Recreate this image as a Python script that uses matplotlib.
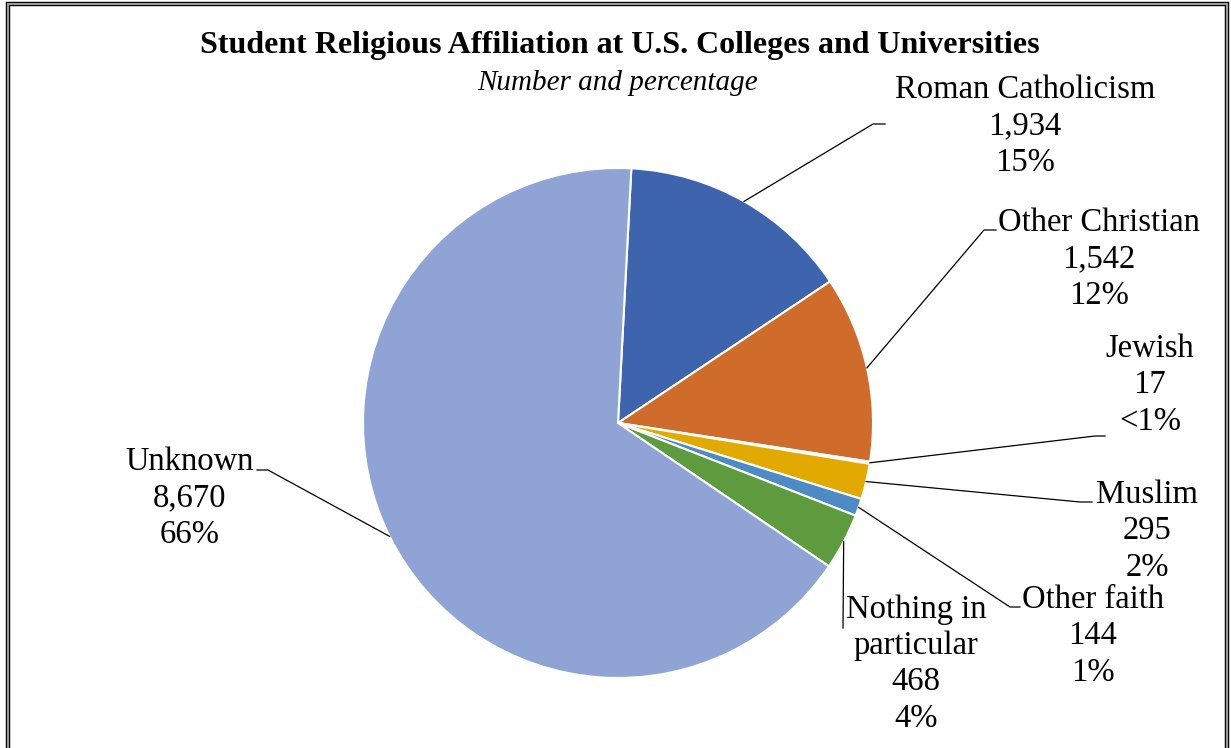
import numpy as np
import matplotlib.pyplot as plt
from matplotlib.patches import Rectangle

plt.rcParams['font.family'] = ['Liberation Serif', 'DejaVu Serif']

# data
categories = ['Roman Catholicism', 'Other Christian', 'Jewish', 'Muslim',
              'Other faith', 'Nothing in\nparticular', 'Unknown']
counts = [1934, 1542, 17, 295, 144, 468, 8670]
colors = ['#3D64AD', '#D06C2B', '#A5A5A5', '#E2AA00', '#4E8BC5', '#5E9A3E', '#8FA3D4']

W, H = 1231, 748
cx, cy, R = 618, 423, 255   # pie centre and radius in pixels

fig = plt.figure(figsize=(W / 100, H / 100), dpi=100)
ax = fig.add_axes([0, 0, 1, 1])

wedges, _ = ax.pie(counts, startangle=87, counterclock=False, colors=colors,
                   radius=1, wedgeprops=dict(edgecolor='white', linewidth=1.5))
ax.set_xlim(-cx / R, (W - cx) / R)
ax.set_ylim(-(H - cy) / R, cy / R)
ax.set_aspect('equal')
ax.axis('off')


def px(x, y):
    return (x - cx) / R, (cy - y) / R


# label centre, elbow, end of leader (pixels)
layout = [
    ((1025, 126), (873, 124), (885, 124)),
    ((1099, 259), (984, 230), (996, 230)),
    ((1150, 385), (1095, 436), (1105, 436)),
    ((1147, 531), (1080, 502), (1092, 502)),
    ((1093, 636), (1010, 607), (1020, 607)),
    ((916, 664), (843, 628), (843, 628)),
    ((190, 498), (268, 470), (257, 470)),
]

total = sum(counts)
for w, cat, v, (txt, elbow, end) in zip(wedges, categories, counts, layout):
    pct = v / total * 100
    pct_s = '<1%' if pct < 1 else f'{pct:.0f}%'
    mid = np.deg2rad((w.theta1 + w.theta2) / 2)
    sx, sy = np.cos(mid), np.sin(mid)
    ex, ey = px(*elbow)
    fx, fy = px(*end)
    ax.plot([sx, ex, fx], [sy, ey, fy], color='black', lw=0.9)
    tx, ty = px(*txt)
    ax.text(tx, ty, f'{cat}\n{v:,}\n{pct_s}', ha='center', va='center',
            fontsize=23.5, linespacing=1.25)

fig.text(620 / W, 1 - 46 / H,
         'Student Religious Affiliation at U.S. Colleges and Universities',
         ha='center', va='center', fontsize=23, fontweight='bold')
fig.text(618 / W, 1 - 83 / H, 'Number and percentage', ha='center', va='center',
         fontsize=21, style='italic')

# chart border
fig.patches.append(Rectangle((8 / W, -0.05), (1227 - 8) / W, 1.05 - 4 / H,
                             transform=fig.transFigure, fill=False,
                             edgecolor='black', lw=3.2))
fig.patches.append(Rectangle((8 / W, -0.05), (1227 - 8) / W, 1.05 - 4 / H,
                             transform=fig.transFigure, fill=False,
                             edgecolor='#9A9A9A', lw=1.5))

fig.savefig('out.png', dpi=100)
